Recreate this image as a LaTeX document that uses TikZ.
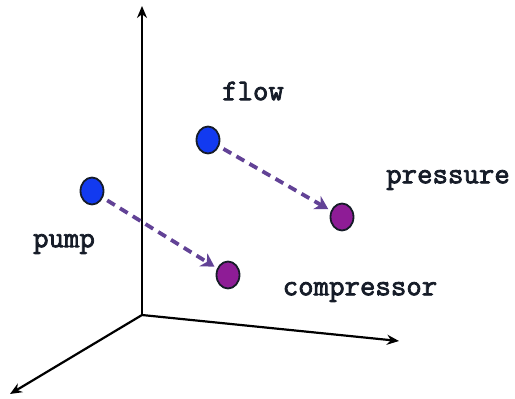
\documentclass[tikz,border=0pt]{standalone}
\usepackage{fontspec}
\newfontfamily\labelfont{Latin Modern Mono}[FakeBold=2.5]
\usepackage{xcolor}
\usetikzlibrary{shapes.geometric,arrows.meta}

\definecolor{dotblue}{RGB}{18,58,240}
\definecolor{dotpurple}{RGB}{142,28,150}
\definecolor{arrowpurple}{RGB}{98,66,150}
\definecolor{labelink}{RGB}{22,28,40}

\tikzset{
    bluedot/.style={ellipse, draw=labelink, line width=1.8pt, fill=dotblue, minimum width=23pt, minimum height=27pt, inner sep=0pt},
    purpledot/.style={ellipse, draw=labelink, line width=1.8pt, fill=dotpurple, minimum width=23pt, minimum height=27pt, inner sep=0pt},
    moveto/.style={arrowpurple, line width=3.8pt, dash pattern=on 9pt off 6pt, -{Stealth[length=13pt,width=15pt,inset=4pt]}, shorten <=5pt, shorten >=3pt},
    word/.style={font=\labelfont\fontsize{30}{32}\selectfont, text=labelink}
}

\begin{document}
\begin{tikzpicture}[x=1pt, y=-1pt]
    \useasboundingbox (0,0) rectangle (515,399);
    % axes
    \coordinate (o) at (142,315);
    \coordinate (ytop) at (142,6);
    \coordinate (xend) at (399,341);
    \coordinate (zend) at (10,394);
    \draw[line width=2.2pt, -{Stealth[length=12pt,width=10pt]}] (o) -- (ytop);
    \draw[line width=2.2pt, -{Stealth[length=12pt,width=10pt]}] (o) -- (xend);
    \draw[line width=2.2pt, -{Stealth[length=12pt,width=10pt]}] (o) -- (zend);
    % points
    \node[bluedot] (pump) at (92,191) {};
    \node[bluedot] (flow) at (208,140) {};
    \node[purpledot] (compressor) at (228,275) {};
    \node[purpledot] (pressure) at (342,217) {};
    \draw[moveto] (pump) -- (compressor);
    \draw[moveto] (flow) -- (pressure);
    % labels
    \node[word] (pumplabel) at (64,244) {pump};
    \node[word] (flowlabel) at (253,91) {flow};
    \node[word] (pressurelabel) at (448,180) {pressure};
    \node[word] (compressorlabel) at (360,292) {compressor};
\end{tikzpicture}
\end{document}
